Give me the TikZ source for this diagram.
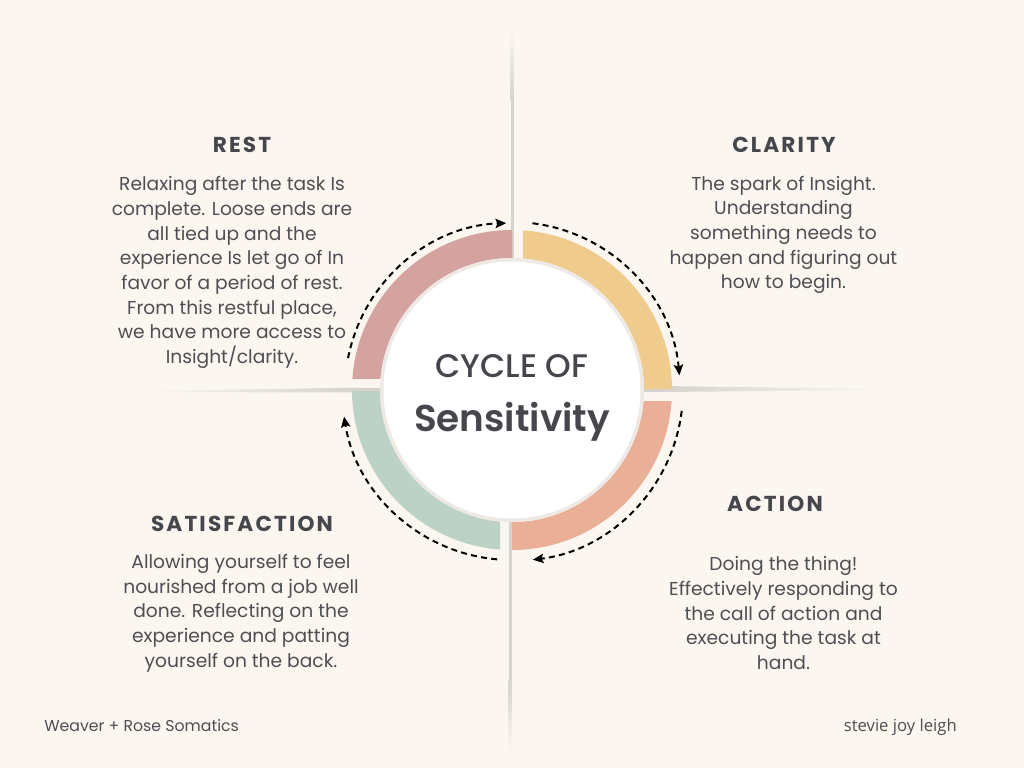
\documentclass[tikz,border=0pt]{standalone}
\usepackage{fontspec}
\setmainfont{Poppins}
\newfontfamily\medfont{Poppins Medium}
\newfontfamily\semifont{Poppins SemiBold}
\newfontfamily\footfont{Open Sans}
\usetikzlibrary{arrows.meta}
\definecolor{bg}{HTML}{FBF6F0}
\definecolor{txt}{HTML}{45474C}
\definecolor{bodytxt}{HTML}{4E4F53}
\definecolor{crest}{HTML}{D4A29F}
\definecolor{cclar}{HTML}{EFCB8D}
\definecolor{cact}{HTML}{E9AF97}
\definecolor{csat}{HTML}{BDD2C6}
\definecolor{shd}{HTML}{D6D2CE}
\definecolor{rim}{HTML}{EEE9E4}
\tikzset{
  ttl/.style={font=\fontsize{16.2}{19}\selectfont\bfseries\addfontfeature{LetterSpace=10}, text=txt, anchor=base, inner sep=0pt},
  body/.style={font=\fontsize{14}{18.5}\selectfont, text=bodytxt, align=center, inner sep=0pt},
  cycarrow/.style={line width=1.5pt, dash pattern=on 4.5pt off 3.2pt, -{Stealth[length=8pt,width=7pt,inset=1.5pt]}},
  foot/.style={font=\fontsize{11.8}{14}\selectfont, text=bodytxt, inner sep=0pt},
}
\begin{document}
\begin{tikzpicture}[x=0.75pt,y=-0.75pt]
\fill[bg] (0,0) rectangle (1024,768);
\useasboundingbox (0,0) rectangle (1024,768);

% panel shadow lines
\shade[top color=bg, bottom color=shd] (510.5,30) rectangle (513.5,100);
\fill[shd] (510.5,100) rectangle (513.5,390);
\shade[top color=shd, bottom color=bg] (508.5,680) rectangle (511.5,752);
\fill[shd] (508.5,390) rectangle (511.5,680);
\shade[left color=bg, right color=shd] (145,391) -- (360,387.5) -- (360,392.5) -- (145,392) -- cycle;
\fill[shd] (360,387.5) rectangle (512,392.5);
\shade[left color=shd, right color=bg] (660,386) -- (886,389) -- (886,390) -- (660,392) -- cycle;
\fill[shd] (512,386) rectangle (660,392);

% coloured quarter rings
\coordinate (c) at (512,390);
\begin{scope}
  \clip (0,0) rectangle (512,378);
  \fill[crest, even odd rule] (c) circle[radius=160] (c) circle[radius=132];
\end{scope}
\begin{scope}
  \clip (523,0) rectangle (1024,388);
  \fill[cclar, even odd rule] (c) circle[radius=160] (c) circle[radius=132];
\end{scope}
\begin{scope}
  \clip (512,401) rectangle (1024,768);
  \fill[cact, even odd rule] (c) circle[radius=160] (c) circle[radius=132];
\end{scope}
\begin{scope}
  \clip (0,391) rectangle (500,768);
  \fill[csat, even odd rule] (c) circle[radius=160] (c) circle[radius=132];
\end{scope}

% centre disc
\fill[rim] (c) circle[radius=132];
\fill[white] (c) circle[radius=128.5];
\node[font=\fontsize{24.5}{28}\selectfont\medfont, text=txt, anchor=base, inner sep=0pt] (cyc) at (512,377) {CYCLE OF};
\node[font=\fontsize{28}{32}\selectfont\semifont, text=txt, anchor=base, inner sep=0pt] (sens) at (512,431.5) {Sensitivity};

% dashed cycle arrows (angles negated because y points down)
\draw[cycarrow] ([shift={(-169:167)}]c) arc[start angle=-169, end angle=-92, radius=167];
\draw[cycarrow] ([shift={(-83:168)}]c) arc[start angle=-83, end angle=-5, radius=168];
\draw[cycarrow] ([shift={(7:171)}]c) arc[start angle=7, end angle=83, radius=171];
\draw[cycarrow] ([shift={(95:170)}]c) arc[start angle=95, end angle=171, radius=170];

% titles
\node[ttl] (rest) at (242,152) {REST};
\node[ttl] (clarity) at (784,152) {CLARITY};
\node[ttl] (action) at (775,511.5) {ACTION};
\node[ttl] (satis) at (242,531.5) {SATISFACTION};

% bodies
\node[body] (restb) at (232,272.5) {Relaxing after the task Is\\complete. Loose ends are\\all tied up and the\\experience Is let go of In\\favor of a period of rest.\\From this restful place,\\we have more access to\\Insight/clarity.};
\node[body] (clarb) at (783.5,235) {The spark of Insight.\\Understanding\\something needs to\\happen and figuring out\\how to begin.};
\node[body] (satb) at (241,613) {Allowing yourself to feel\\nourished from a job well\\done. Reflecting on the\\experience and patting\\yourself on the back.};
\node[body] (actb) at (783.5,613) {Doing the thing!\\Effectively responding to\\the call of action and\\executing the task at\\hand.};

% footers
\node[foot, anchor=base west] (wr) at (44,731.5) {Weaver + Rose Somatics};
\node[foot, font=\fontsize{12.5}{14}\selectfont\footfont, anchor=base east] (sj) at (957,731.5) {stevie joy leigh};
\end{tikzpicture}
\end{document}
